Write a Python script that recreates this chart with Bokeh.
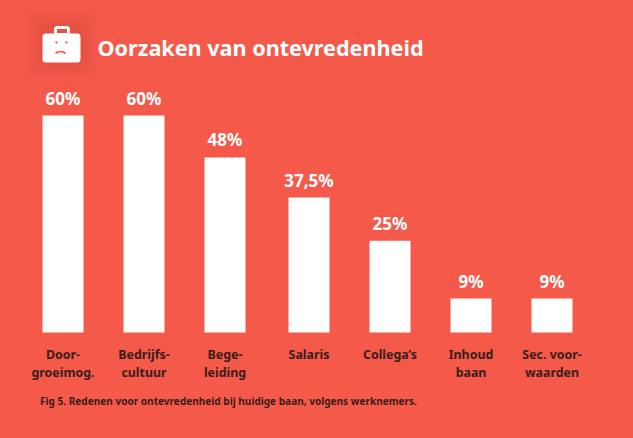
from bokeh.plotting import figure
from bokeh.models import FactorRange, Range1d, ColumnDataSource
from bokeh.core.properties import value
from bokeh.embed import file_html
from bokeh.resources import INLINE

# Data
groups = ["a", "a", "a", "b", "b", "b", "b"]
categories = ["Door-\ngroeimog.", "Bedrijfs-\ncultuur", "Bege-\nleiding", "Salaris",
              "Collega’s", "Inhoud\nbaan", "Sec. voor-\nwaarden"]
bar_heights = [60, 60, 48.4, 37.3, 25.4, 9.4, 9.4]
value_labels = ["60%", "60%", "48%", "37,5%", "25%", "9%", "9%"]
title_text = "Oorzaken van ontevredenheid"
caption_text = "Fig 5. Redenen voor ontevredenheid bij huidige baan, volgens werknemers."

BG = "#F4594A"
DARK = "#3A1E1B"
FONT = "Noto Sans"
W, H = 633, 438
STEP = 81.0
X_PAD = 22
RIGHT_GAP = 19
Y_TOP, Y_ZERO = 115, 332
PX_PER_UNIT = (Y_ZERO - Y_TOP) / 60


def sx(v):
    return [(i - X_PAD) / STEP for i in v]


def sy(v):
    return [(Y_ZERO - i) / PX_PER_UNIT for i in v]


factors = list(zip(groups, categories))
x_range = FactorRange(factors=factors, factor_padding=0, group_padding=3 / STEP,
                      range_padding=X_PAD / STEP, range_padding_units="absolute")
y_range = Range1d(-(H - Y_ZERO) / PX_PER_UNIT, Y_ZERO / PX_PER_UNIT)

p = figure(width=W, height=H, x_range=x_range, y_range=y_range,
           output_backend="svg", toolbar_location=None,
           min_border_left=0, min_border_top=0, min_border_bottom=0,
           min_border_right=RIGHT_GAP, background_fill_color=None,
           border_fill_color=BG, outline_line_color=None)
p.axis.visible = False
p.grid.visible = False
p.styles = {"position": "fixed", "left": "0", "top": "0", "background-color": BG}

src = ColumnDataSource(dict(x=factors, h=bar_heights, lab=value_labels, cat=categories,
                            zero=[0] * 7))
p.vbar(x="x", top="h", width=41 / STEP, source=src, fill_color="white", line_color=None)
p.text(x="x", y="h", text="lab", source=src, y_offset=-6, text_align="center",
       text_baseline="bottom", text_color="white", text_font=value(FONT),
       text_font_style="bold", text_font_size="17px")
p.text(x="x", y="zero", text="cat", source=src, y_offset=13, text_align="center",
       text_baseline="top", text_color=DARK, text_font=value(FONT),
       text_font_style="bold", text_font_size="12.4px", text_line_height=1.1)

# Soft shadow round the icon
for g in range(1, 9):
    p.quad(left=sx([42 - g * 2]), right=sx([80 + g * 2]), top=sy([26 - g * 2]), bottom=sy([62 + g * 2]),
           fill_color="#000000", fill_alpha=0.006, line_color=None, border_radius=8)

# Briefcase icon
p.quad(left=sx([42]), right=sx([80]), top=sy([33]), bottom=sy([62]),
       fill_color="white", line_color=None, border_radius=3)
p.quad(left=sx([55]), right=sx([68]), top=sy([27]), bottom=sy([34]),
       fill_color=None, line_color="white", line_width=3, border_radius=2)
p.quad(left=sx([55, 65]), right=sx([57, 67]), top=sy([41, 41]), bottom=sy([43, 43]),
       fill_color=BG, line_color=None)
p.line(x=sx([55, 57, 60, 63, 65]), y=sy([53, 51.5, 51, 51.5, 53]),
       line_color=BG, line_width=1.6)

p.text(x=sx([97]), y=sy([46.5]), text=[title_text],
       text_align="left", text_baseline="middle", text_color="white", text_font=value(FONT),
       text_font_style="bold", text_font_size="21.6px")
p.text(x=sx([39.5]), y=sy([400.5]), text=[caption_text],
       text_align="left", text_baseline="middle", text_color=DARK, text_font=value(FONT),
       text_font_style="bold", text_font_size="10.07px")

open("out.html", "w").write(file_html(p, INLINE))
